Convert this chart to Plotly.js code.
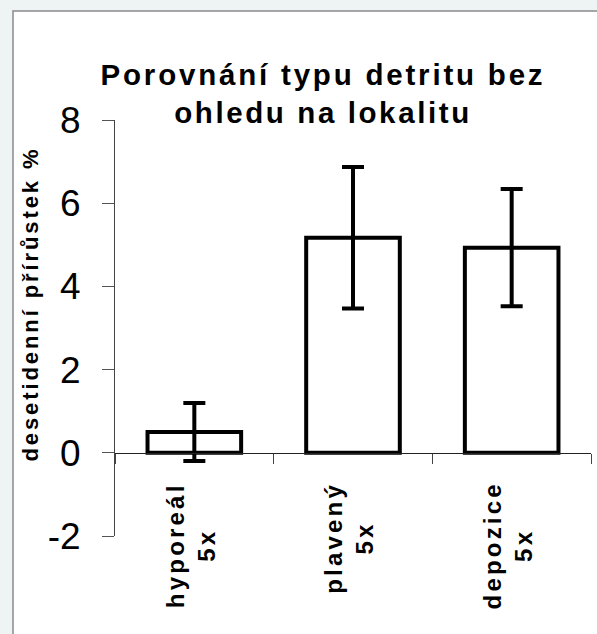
<!DOCTYPE html>
<html>
<head>
<meta charset="utf-8">
<script src="https://cdn.plot.ly/plotly-3.0.1.min.js"></script>
<style>
html,body{margin:0;padding:0;background:#eef3f4;}
#chart{width:597px;height:634px;}
</style>
</head>
<body>
<div id="chart"></div>
<script>
// ---- data ----
var categories = ["hyporeál", "plavený", "depozice"];
var counts = ["5x", "5x", "5x"];
var values = [0.5, 5.17, 4.93];
var errors = [0.7, 1.7, 1.41];
var yTicks = [-2, 0, 2, 4, 6, 8];
var titleLines = ["Porovnání typu detritu bez", "ohledu na lokalitu"];
var yTitle = "desetidenní přírůstek %";

var FONT = "Liberation Sans";
function spaced(t, px) { return '<b><span style="letter-spacing:' + px + 'px">' + t + '</span></b>'; }

var trace = {
  type: "bar",
  x: categories,
  y: values,
  width: 0.59,
  marker: { color: "#ffffff", line: { color: "#000000", width: 4 } },
  error_y: { type: "data", array: errors, visible: true, color: "#000000", thickness: 4, width: 11 },
  hoverinfo: "skip"
};

var annotations = categories.map(function (c, i) {
  return {
    x: c, xref: "x", y: 0, yref: "y", yanchor: "top", xanchor: "center",
    yshift: -27, xshift: -4, textangle: -90, showarrow: false, align: "center",
    text: spaced(c, 3.2) + "<br>" + spaced(counts[i], 3.2),
    font: { family: FONT, size: 24, weight: 700, color: "#000" }
  };
});
annotations.push({
  xref: "paper", x: (29.5 - 115) / 476, yref: "paper", y: (536 - 304) / 416,
  xanchor: "center", yanchor: "middle", textangle: -90, showarrow: false,
  text: spaced(yTitle, 2.9),
  font: { family: FONT, size: 22, weight: 700, color: "#000" }
});

var layout = {
  width: 597, height: 634,
  margin: { l: 115, r: 6, t: 120, b: 98, pad: 0 },
  paper_bgcolor: "#eef3f4",
  plot_bgcolor: "rgba(0,0,0,0)",
  showlegend: false,
  title: {
    text: spaced(titleLines[0], 2.8) + "<br>" + spaced(titleLines[1], 2.6),
    font: { family: FONT, size: 29.5, weight: 700, color: "#000" },
    xref: "container", x: 323 / 597, xanchor: "center",
    yref: "container", y: 1 - 85 / 634, yanchor: "middle"
  },
  xaxis: {
    type: "category", range: [-0.5, 2.5],
    anchor: "free", position: 0.2,
    showline: true, linecolor: "#222", linewidth: 1,
    ticks: "outside", tickson: "boundaries", ticklen: 10, tickcolor: "#444", tickwidth: 1,
    showticklabels: false, showgrid: false, zeroline: false, fixedrange: true
  },
  yaxis: {
    range: [-2, 8], tickvals: yTicks, ticktext: yTicks.map(String),
    showline: true, linecolor: "#444", linewidth: 1,
    ticks: "outside", ticklen: 12, tickcolor: "#555", tickwidth: 1,
    ticklabelstandoff: 14,
    tickfont: { family: FONT, size: 37, color: "#000" },
    showgrid: false, zeroline: false, fixedrange: true
  },
  shapes: [{
    type: "rect", xref: "paper", yref: "paper", layer: "below",
    x0: (13 - 115) / 476, x1: 1.05, y0: -0.3, y1: (536 - 11) / 416,
    fillcolor: "#ffffff", line: { color: "#8a8a8a", width: 1.5 }
  }],
  annotations: annotations
};

Plotly.newPlot("chart", [trace], layout, { displayModeBar: false, staticPlot: true });
</script>
</body>
</html>
